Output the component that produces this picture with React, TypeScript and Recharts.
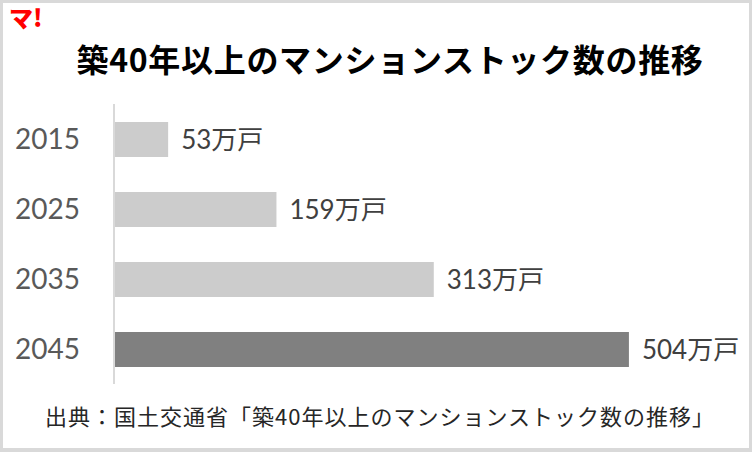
import React from "react"
import { BarChart, Bar, XAxis, YAxis, Cell, LabelList } from "recharts"

const years = ["2015", "2025", "2035", "2045"]
const stock = [53, 159, 313, 504]
const barColors = ["#cccccc", "#cccccc", "#cccccc", "#808080"]

const data = years.map((year, i) => ({ year, stock: stock[i] }))

const latin = "Lato, 'Noto Sans CJK JP', sans-serif"
const jp = "'Noto Sans CJK JP', sans-serif"

export default function App() {
  return (
    <div style={{ position: "absolute", left: 0, top: 0, width: 752, height: 452, background: "#fff", overflow: "hidden" }}>
      <BarChart
        width={752}
        height={452}
        data={data}
        layout="vertical"
        margin={{ top: 104, right: 25, bottom: 68, left: 0 }}
        style={{ position: "absolute", left: 0, top: 0 }}
      >
        <XAxis type="number" domain={[0, 600]} hide />
        <YAxis
          type="category"
          dataKey="year"
          width={114}
          axisLine={{ stroke: "#d9d9d9", strokeWidth: 2 }}
          tickLine={false}
          tickSize={0}
          tickMargin={34}
          tick={{ fill: "#595959", fontSize: 28, fontFamily: latin }}
        />
        <Bar dataKey="stock" barSize={35} isAnimationActive={false}>
          {data.map((d, i) => (
            <Cell key={d.year} fill={barColors[i]} />
          ))}
          <LabelList
            dataKey="stock"
            position="right"
            offset={13}
            formatter={(v: number) => `${v}万戸`}
            style={{ fill: "#404040", fontSize: 26, fontFamily: latin }}
          />
        </Bar>
      </BarChart>
      <div style={{ position: "absolute", left: 9, top: 2, color: "#ff0000", fontFamily: jp, fontWeight: 900, fontSize: 24, lineHeight: "30px" }}>
        マ!
      </div>
      <div style={{ position: "absolute", left: 0, width: 780, top: 38, textAlign: "center", fontFamily: jp, fontWeight: 700, fontSize: 32, letterSpacing: 0.7, lineHeight: "40px", color: "#000" }}>
        築40年以上のマンションストック数の推移
      </div>
      <div style={{ position: "absolute", left: 45, top: 400, fontFamily: jp, fontSize: 22, letterSpacing: 1, lineHeight: "30px", color: "#262626", whiteSpace: "nowrap" }}>
        出典：国土交通省「築40年以上のマンションストック数の推移」
      </div>
      <div style={{ position: "absolute", left: 0, top: 0, width: 752, height: 452, boxSizing: "border-box", border: "3px solid #d9d9d9", borderBottomWidth: 4, pointerEvents: "none" }} />
    </div>
  )
}
